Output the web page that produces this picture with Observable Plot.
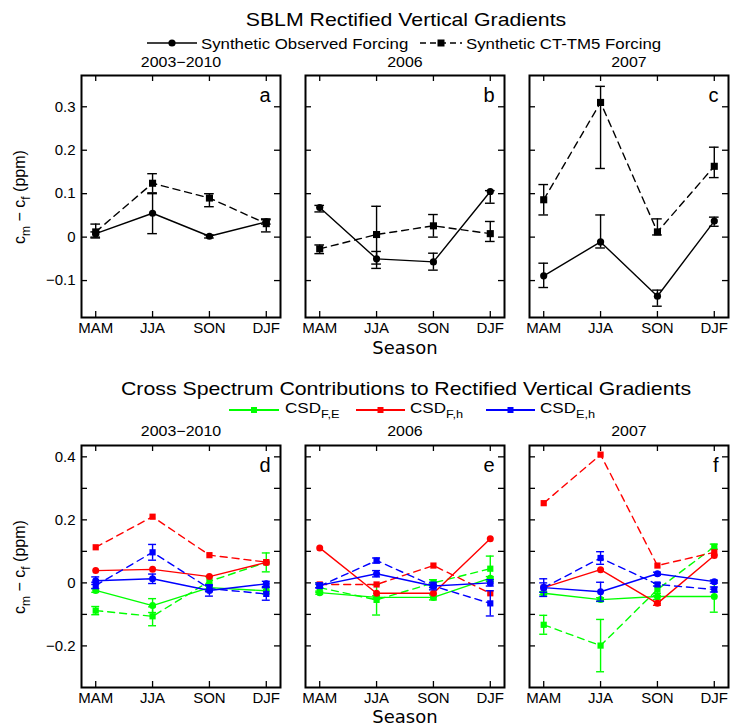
<!DOCTYPE html>
<html><head><meta charset="utf-8">
<script src="https://cdn.jsdelivr.net/npm/d3@7"></script>
<script src="https://cdn.jsdelivr.net/npm/@observablehq/plot@0.6"></script>
<style>
body{margin:0;background:#fff;}
#root{position:relative;width:730px;height:726px;overflow:hidden;font-family:"Liberation Sans",Arial,sans-serif;color:#000;}
.t{position:absolute;white-space:nowrap;line-height:1;}
sub.s{font-size:0.75em;vertical-align:-0.45em;}
</style></head><body><div id="root"></div>
<script>
const seasons = ["MAM", "JJA", "SON", "DJF"];
const periods = ["2003\u22122010", "2006", "2007"];
const lettersTop = ["a", "b", "c"];
const lettersBottom = ["d", "e", "f"];

// Top row: SBLM rectified vertical gradients (per period, per season)
const obsVal = [[0.008, 0.055, 0.002, 0.035], [0.068, -0.050, -0.057, 0.105], [-0.089, -0.011, -0.136, 0.037]];
const obsLo  = [[0.000, 0.008, -0.002, 0.030], [0.058, -0.072, -0.076, 0.078], [-0.116, -0.025, -0.159, 0.025]];
const obsHi  = [[0.012, 0.100, 0.005, 0.040], [0.073, -0.033, -0.037, 0.107], [-0.060, 0.051, -0.122, 0.046]];
const ctVal  = [[0.012, 0.124, 0.090, 0.031], [-0.027, 0.006, 0.026, 0.008], [0.086, 0.310, 0.012, 0.163]];
const ctLo   = [[-0.002, 0.102, 0.070, 0.012], [-0.038, -0.062, 0.000, -0.010], [0.051, 0.158, 0.005, 0.137]];
const ctHi   = [[0.030, 0.146, 0.100, 0.042], [-0.018, 0.071, 0.052, 0.036], [0.121, 0.347, 0.042, 0.207]];

// Bottom row: cross spectrum contributions (obs = solid/circles, ct = dashed/squares)
const feObs    = [[-0.024, -0.072, -0.015, -0.025], [-0.031, -0.046, -0.046, 0.015], [-0.033, -0.053, -0.043, -0.043]];
const feObsErr = [[0.006, 0.022, 0.010, 0.010], [0.005, 0.005, 0.008, 0.005], [0.005, 0.006, 0.010, 0.050]];
const feCt     = [[-0.088, -0.106, 0.005, 0.065], [-0.015, -0.054, 0.000, 0.045], [-0.133, -0.199, -0.021, 0.115]];
const feCtErr  = [[0.013, 0.030, 0.015, 0.030], [0.015, 0.048, 0.010, 0.040], [0.030, 0.083, 0.020, 0.008]];
const fhObs    = [[0.039, 0.043, 0.020, 0.065], [0.111, -0.033, -0.033, 0.140], [-0.015, 0.042, -0.065, 0.087]];
const fhObsErr = [[0, 0, 0, 0], [0, 0, 0, 0], [0, 0, 0.006, 0]];
const fhCt     = [[0.113, 0.210, 0.088, 0.066], [-0.005, -0.005, 0.055, -0.033], [0.253, 0.407, 0.055, 0.097]];
const fhCtErr  = [[0, 0, 0, 0], [0, 0, 0, 0], [0, 0, 0, 0]];
const ehObs    = [[0.007, 0.013, -0.024, -0.003], [-0.008, 0.029, -0.010, 0.000], [-0.015, -0.028, 0.029, 0.004]];
const ehObsErr = [[0.012, 0.015, 0.018, 0.008], [0.008, 0.010, 0.012, 0.010], [0.028, 0.030, 0.005, 0.005]];
const ehCt     = [[-0.008, 0.097, -0.018, -0.035], [-0.010, 0.071, -0.010, -0.065], [-0.015, 0.079, -0.005, -0.021]];
const ehCtErr  = [[0.010, 0.025, 0.010, 0.020], [0.005, 0.008, 0.005, 0.040], [0.015, 0.020, 0.005, 0.008]];

const csdColors = {fe: "#00ff00", fh: "#ff0000", eh: "#0000ff"};

const root = document.getElementById("root");
const W = 199, H = 242, ML = 46, MR = 4, MT = 4, MB = 26;
const colX = [81, 305, 529];
const rowY = [75, 445];
const topDomain = [-0.185, 0.372];
const botDomain = [-0.332, 0.436];

const fmt = d => d === 0 ? "0" : d3.format(".1f")(d).replace("-", "\u2212");

function seriesMarks(rows, color, dashed, circleR, squareR, cap) {
  const bars = rows.filter(d => d.hi > d.lo);
  return [
    Plot.line(rows, {x: "x", y: "v", stroke: color, strokeWidth: 1.4, strokeDasharray: dashed ? "7,5" : null}),
    Plot.ruleX(bars, {x: "x", y1: "lo", y2: "hi", stroke: color, strokeWidth: 1.4}),
    Plot.ruleY(bars, {y: "lo", x1: d => d.x - cap, x2: d => d.x + cap, stroke: color, strokeWidth: 1.4}),
    Plot.ruleY(bars, {y: "hi", x1: d => d.x - cap, x2: d => d.x + cap, stroke: color, strokeWidth: 1.4}),
    Plot.dot(rows, {x: "x", y: "v", symbol: dashed ? "square" : "circle", r: dashed ? squareR : circleR, fill: color, stroke: "none"})
  ];
}

function panel({series, yDomain, yTicks, yLabelTicks, letter, showY, left, top}) {
  const marks = [
    Plot.tickX([1, 2, 3, 4], {x: d => d, insetTop: H - 6, stroke: "black", strokeWidth: 1.3}),
    Plot.tickX([1, 2, 3, 4], {x: d => d, insetBottom: H - 6, stroke: "black", strokeWidth: 1.3}),
    Plot.tickY(yTicks, {y: d => d, insetRight: W - 6, stroke: "black", strokeWidth: 1.3}),
    Plot.tickY(yTicks, {y: d => d, insetLeft: W - 6, stroke: "black", strokeWidth: 1.3}),
    Plot.axisX({ticks: [1, 2, 3, 4], tickFormat: d => seasons[d - 1], tickSize: 0, tickPadding: 5, label: null})
  ];
  if (showY) marks.push(Plot.axisY({ticks: yLabelTicks, tickFormat: fmt, tickSize: 0, tickPadding: 6, label: null}));
  for (const s of series) marks.push(...s);
  marks.push(Plot.frame({stroke: "black", strokeWidth: 2}));
  marks.push(Plot.text([letter], {frameAnchor: "top-right", text: d => d, dx: -10, dy: 12, fontSize: 20, lineAnchor: "top"}));
  const svg = Plot.plot({
    width: ML + W + MR, height: MT + H + MB,
    marginLeft: ML, marginRight: MR, marginTop: MT, marginBottom: MB,
    x: {domain: [0.75, 4.25], axis: null},
    y: {domain: yDomain, axis: null},
    style: {background: "transparent", overflow: "visible", fontFamily: "'Liberation Sans', Arial, sans-serif", fontSize: "15px", color: "black"},
    marks
  });
  svg.style.position = "absolute";
  svg.style.left = (left - ML) + "px";
  svg.style.top = (top - MT) + "px";
  root.appendChild(svg);
}

function rowsOf(vals, lo, hi) {
  return seasons.map((s, i) => ({x: i + 1, v: vals[i], lo: lo[i], hi: hi[i]}));
}
function rowsErr(vals, err) {
  return seasons.map((s, i) => ({x: i + 1, v: vals[i], lo: vals[i] - err[i], hi: vals[i] + err[i]}));
}

for (let p = 0; p < 3; p++) {
  panel({
    series: [
      seriesMarks(rowsOf(ctVal[p], ctLo[p], ctHi[p]), "black", true, 3.6, 4, 0.085),
      seriesMarks(rowsOf(obsVal[p], obsLo[p], obsHi[p]), "black", false, 3.6, 4, 0.085)
    ],
    yDomain: topDomain, yTicks: [-0.1, 0, 0.1, 0.2, 0.3], yLabelTicks: [-0.1, 0, 0.1, 0.2, 0.3],
    letter: lettersTop[p], showY: p === 0, left: colX[p], top: rowY[0]
  });
  panel({
    series: [
      seriesMarks(rowsErr(feCt[p], feCtErr[p]), csdColors.fe, true, 3.5, 3.5, 0.07),
      seriesMarks(rowsErr(feObs[p], feObsErr[p]), csdColors.fe, false, 3.5, 3.5, 0.07),
      seriesMarks(rowsErr(fhCt[p], fhCtErr[p]), csdColors.fh, true, 3.5, 3.5, 0.07),
      seriesMarks(rowsErr(fhObs[p], fhObsErr[p]), csdColors.fh, false, 3.5, 3.5, 0.07),
      seriesMarks(rowsErr(ehCt[p], ehCtErr[p]), csdColors.eh, true, 3.5, 3.5, 0.07),
      seriesMarks(rowsErr(ehObs[p], ehObsErr[p]), csdColors.eh, false, 3.5, 3.5, 0.07)
    ],
    yDomain: botDomain, yTicks: [-0.2, -0.1, 0, 0.1, 0.2, 0.3, 0.4], yLabelTicks: [-0.2, 0, 0.2, 0.4],
    letter: lettersBottom[p], showY: p === 0, left: colX[p], top: rowY[1]
  });
}

// HTML text
function txt(html, x, y, size, opts = {}) {
  const d = document.createElement("div");
  d.className = "t";
  d.innerHTML = html;
  d.style.left = x + "px";
  d.style.top = y + "px";
  d.style.fontSize = size + "px";
  if (opts.font) d.style.fontFamily = opts.font;
  const sx = opts.sx || 1;
  if (opts.rot) {
    d.style.transform = `translate(-50%, -50%) rotate(${opts.rot}deg)`;
  } else if (opts.anchor === "start") {
    d.style.transformOrigin = "0 50%";
    d.style.transform = `translate(0, -50%) scaleX(${sx})`;
  } else {
    d.style.transform = `translate(-50%, -50%) scaleX(${sx})`;
  }
  root.appendChild(d);
  return d;
}

txt("SBLM Rectified Vertical Gradients", 406, 19, 19, {sx: 1.12});
txt("Cross Spectrum Contributions to Rectified Vertical Gradients", 406, 388, 19, {sx: 1.12});
txt("Synthetic Observed Forcing", 201, 43, 15, {sx: 1.12, anchor: "start"});
txt("Synthetic CT-TM5 Forcing", 466, 43, 15, {sx: 1.12, anchor: "start"});
for (let p = 0; p < 3; p++) {
  txt(periods[p], colX[p] + W / 2, 62, 14.5, {sx: 1.1});
  txt(periods[p], colX[p] + W / 2, 431, 14.5, {sx: 1.1});
}
txt("CSD<sub class='s'>F,E</sub>", 285, 410, 15.5, {sx: 1.1, anchor: "start"});
txt("CSD<sub class='s'>F,h</sub>", 410, 410, 15.5, {sx: 1.1, anchor: "start"});
txt("CSD<sub class='s'>E,h</sub>", 540, 410, 15.5, {sx: 1.1, anchor: "start"});
txt("Season", 405, 348, 18, {font: "'DejaVu Sans', sans-serif"});
txt("Season", 405, 717, 18, {font: "'DejaVu Sans', sans-serif"});
const ylab = "c<sub class='s'>m</sub> \u2212 c<sub class='s'>f</sub> (ppm)";
txt(ylab, 22, 197, 16, {rot: -90});
txt(ylab, 22, 567, 16, {rot: -90});

// Legend glyphs
const ov = d3.select(root).append("svg").attr("width", 730).attr("height", 726)
  .style("position", "absolute").style("left", 0).style("top", 0).style("pointer-events", "none");
ov.append("line").attr("x1", 147).attr("x2", 197).attr("y1", 43).attr("y2", 43).attr("stroke", "black").attr("stroke-width", 1.4);
ov.append("circle").attr("cx", 172).attr("cy", 43).attr("r", 3.6).attr("fill", "black");
ov.append("line").attr("x1", 420).attr("x2", 462).attr("y1", 43).attr("y2", 43).attr("stroke", "black").attr("stroke-width", 1.4).attr("stroke-dasharray", "6,4");
ov.append("rect").attr("x", 437.5).attr("y", 39.5).attr("width", 7).attr("height", 7).attr("fill", "black");
const legX = [[229, 279], [356, 405], [486, 535]];
const legC = [csdColors.fe, csdColors.fh, csdColors.eh];
legX.forEach(([a, b], i) => {
  ov.append("line").attr("x1", a).attr("x2", b).attr("y1", 410).attr("y2", 410).attr("stroke", legC[i]).attr("stroke-width", 2);
  ov.append("rect").attr("x", (a + b) / 2 - 3).attr("y", 407).attr("width", 6).attr("height", 6).attr("fill", legC[i]);
});
</script></body></html>
